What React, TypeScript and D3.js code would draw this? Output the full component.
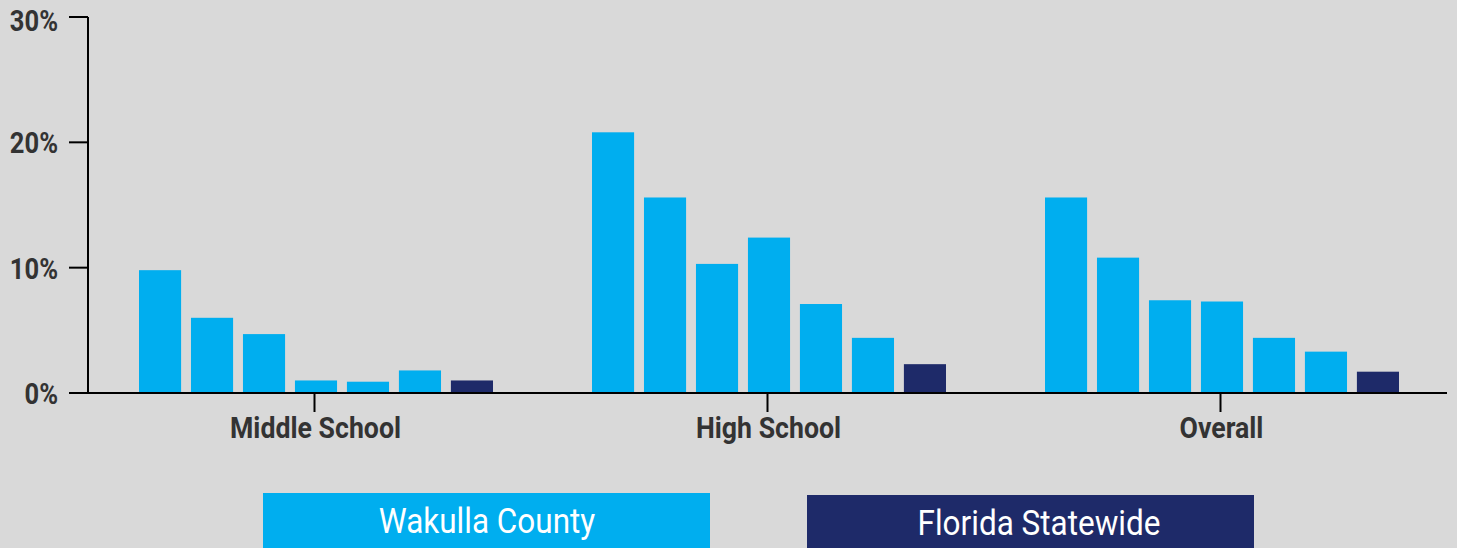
import React, { useEffect, useRef } from "react";
import * as d3 from "d3";

const categories = ["Middle School", "High School", "Overall"];
const seriesKeys = ["s1", "s2", "s3", "s4", "s5", "s6", "florida"];
const wakullaValues = [
  [9.8, 6.0, 4.7, 1.0, 0.9, 1.8],
  [20.8, 15.6, 10.3, 12.4, 7.1, 4.4],
  [15.6, 10.8, 7.4, 7.3, 4.4, 3.3],
];
const floridaValues = [1.0, 2.3, 1.7];
const yTicks = [0, 10, 20, 30];
const legendLabels = ["Wakulla County", "Florida Statewide"];

const W = 1457;
const H = 548;
const BG = "#d9d9d9";
const BLUE = "#00aeef";
const NAVY = "#1e2a69";
const TEXT = "#333333";

export default function App() {
  const ref = useRef<SVGSVGElement | null>(null);

  useEffect(() => {
    const svg = d3.select(ref.current);
    svg.selectAll("*").remove();

    svg.append("rect").attr("width", W).attr("height", H).attr("fill", BG);

    const x0 = d3.scaleBand<string>().domain(categories).range([88, 1447]).padding(0);
    const y = d3.scaleLinear().domain([0, 30]).range([393, 17]);
    const innerWidth = 354;
    const x1 = d3
      .scaleBand<string>()
      .domain(seriesKeys)
      .range([0, innerWidth])
      .paddingInner(0.19)
      .paddingOuter(0);

    const rows = categories.map((c, i) => ({
      cat: c,
      vals: [...wakullaValues[i], floridaValues[i]],
    }));

    const groups = svg
      .append("g")
      .selectAll("g")
      .data(rows)
      .join("g")
      .attr(
        "transform",
        (d) => `translate(${(x0(d.cat) as number) + x0.bandwidth() / 2 - innerWidth / 2 + 1.5},0)`
      );

    groups
      .selectAll("rect")
      .data((d) => d.vals.map((v, j) => ({ key: seriesKeys[j], v })))
      .join("rect")
      .attr("x", (d) => x1(d.key) as number)
      .attr("width", x1.bandwidth())
      .attr("y", (d) => y(d.v))
      .attr("height", (d) => y(0) - y(d.v))
      .attr("fill", (d) => (d.key === "florida" ? NAVY : BLUE));

    // Y axis
    const ya = svg.append("g");
    ya.append("line")
      .attr("x1", 88)
      .attr("x2", 88)
      .attr("y1", y(30))
      .attr("y2", y(0))
      .attr("stroke", "#000")
      .attr("stroke-width", 2);
    yTicks.forEach((t) => {
      ya.append("line")
        .attr("x1", 69)
        .attr("x2", 88)
        .attr("y1", y(t))
        .attr("y2", y(t))
        .attr("stroke", "#000")
        .attr("stroke-width", 2);
      ya.append("g")
        .attr("transform", `translate(58,${Math.max(y(t) + 11, 31)}) scale(0.88,1)`)
        .append("text")
        .attr("text-anchor", "end")
        .attr("font-family", "Roboto, sans-serif")
        .attr("font-weight", "bold")
        .attr("font-size", 29)
        .attr("fill", TEXT)
        .text(`${t}%`);
    });

    // X axis
    const xa = svg.append("g");
    xa.append("line")
      .attr("x1", 69)
      .attr("x2", 1447)
      .attr("y1", y(0))
      .attr("y2", y(0))
      .attr("stroke", "#000")
      .attr("stroke-width", 2);
    categories.forEach((c) => {
      const cx = (x0(c) as number) + x0.bandwidth() / 2;
      xa.append("line")
        .attr("x1", cx)
        .attr("x2", cx)
        .attr("y1", y(0))
        .attr("y2", y(0) + 19)
        .attr("stroke", "#000")
        .attr("stroke-width", 2);
      xa.append("g")
        .attr("transform", `translate(${cx + 1},438) scale(0.92,1)`)
        .append("text")
        .attr("text-anchor", "middle")
        .attr("font-family", "Roboto, sans-serif")
        .attr("font-weight", "bold")
        .attr("font-size", 29)
        .attr("fill", TEXT)
        .text(c);
    });

    // Legend
    const legendBoxes = [
      { x: 263, y: 493, w: 447, color: BLUE, tx: 487, ty: 533 },
      { x: 807, y: 495, w: 447, color: NAVY, tx: 1039, ty: 535 },
    ];
    legendBoxes.forEach((b, i) => {
      svg
        .append("rect")
        .attr("x", b.x)
        .attr("y", b.y)
        .attr("width", b.w)
        .attr("height", H - b.y + 5)
        .attr("fill", b.color);
      svg
        .append("g")
        .attr("transform", `translate(${b.tx},${b.ty}) scale(0.9,1)`)
        .append("text")
        .attr("text-anchor", "middle")
        .attr("font-family", "Roboto, sans-serif")
        .attr("font-size", 35)
        .attr("fill", "#ffffff")
        .text(legendLabels[i]);
    });
  }, []);

  return (
    <div style={{ position: "absolute", left: 0, top: 0, width: W, height: H, overflow: "hidden" }}>
      <style>{"body{margin:0;}"}</style>
      <svg ref={ref} width={W} height={H} style={{ display: "block" }} />
    </div>
  );
}
